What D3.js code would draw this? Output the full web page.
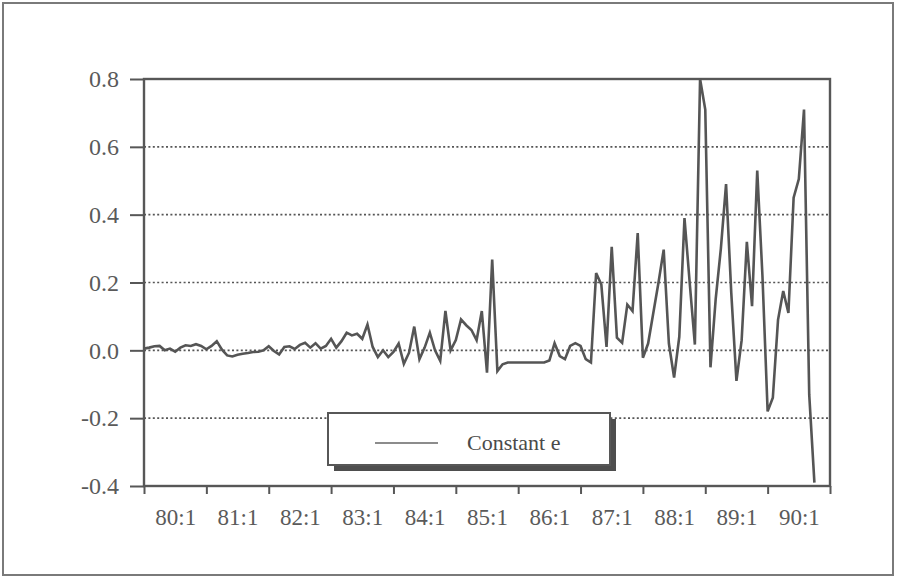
<!DOCTYPE html>
<html>
<head>
<meta charset="utf-8">
<script src="https://cdn.jsdelivr.net/npm/d3@7/dist/d3.min.js"></script>
<style>
  html, body { margin: 0; padding: 0; background: #fff; }
  svg { display: block; }
  text { font-family: "Liberation Serif", "DejaVu Serif", serif; fill: #5a5a5a; }
</style>
</head>
<body>
<svg id="chart" width="898" height="578"></svg>
<script>
// Monthly series, starting at 80:1
const startYear = 1980;
const values = [
  0.005, 0.008, 0.012, 0.013, 0.000, 0.005, -0.004, 0.008, 0.015, 0.013,
  0.018, 0.013, 0.003, 0.013, 0.027, 0.002, -0.015, -0.018, -0.013, -0.010,
  -0.008, -0.005, -0.004, 0.000, 0.012, -0.002, -0.012, 0.010, 0.012, 0.004,
  0.016, 0.022, 0.008, 0.021, 0.005, 0.013, 0.034, 0.008, 0.027, 0.052,
  0.044, 0.049, 0.034, 0.076, 0.010, -0.020, 0.000, -0.020, -0.005, 0.020,
  -0.040, -0.007, 0.070, -0.026, 0.008, 0.052, 0.000, -0.031, 0.116, 0.000,
  0.030, 0.091, 0.074, 0.060, 0.030, 0.116, -0.066, 0.268, -0.061, -0.041,
  -0.036, -0.036, -0.036, -0.036, -0.036, -0.036, -0.036, -0.036, -0.030, 0.021,
  -0.017, -0.026, 0.013, 0.021, 0.013, -0.026, -0.036, 0.228, 0.194, 0.010,
  0.305, 0.037, 0.022, 0.135, 0.116, 0.346, -0.022, 0.020, 0.110, 0.200,
  0.297, 0.020, -0.080, 0.040, 0.390, 0.200, 0.017, 0.800, 0.710, -0.050,
  0.150, 0.300, 0.490, 0.170, -0.090, 0.030, 0.320, 0.130, 0.530, 0.220,
  -0.180, -0.140, 0.090, 0.175, 0.110, 0.450, 0.505, 0.710, -0.130, -0.390
];
const yearLabels = ["80:1", "81:1", "82:1", "83:1", "84:1", "85:1", "86:1", "87:1", "88:1", "89:1", "90:1"];
const yTicks = [-0.4, -0.2, 0.0, 0.2, 0.4, 0.6, 0.8];
const gridValues = [-0.2, 0.0, 0.2, 0.4, 0.6];
const seriesName = "Constant e";

const svg = d3.select("#chart");
const ink = "#575757";
const fmt = d => d3.format(".1f")(d).replace("\u2212", "-");

// outer frame
svg.append("rect")
  .attr("x", 3).attr("y", 3).attr("width", 890).attr("height", 572)
  .attr("fill", "none").attr("stroke", "#7a7a7a").attr("stroke-width", 2);

const plotLeft = 144, plotRight = 830, plotTop = 79, plotBottom = 486;
const x = d3.scaleLinear().domain([startYear, startYear + yearLabels.length]).range([plotLeft, plotRight]);
const y = d3.scaleLinear().domain([-0.4, 0.8]).range([plotBottom, plotTop]);

// dotted gridlines
svg.append("g").selectAll("line").data(gridValues).join("line")
  .attr("x1", plotLeft).attr("x2", plotRight)
  .attr("y1", d => y(d)).attr("y2", d => y(d))
  .attr("stroke", "#555").attr("stroke-width", 1.6)
  .attr("stroke-dasharray", "2,2.4");

// plot box
svg.append("rect")
  .attr("x", plotLeft).attr("y", plotTop).attr("width", plotRight - plotLeft).attr("height", plotBottom - plotTop)
  .attr("fill", "none").attr("stroke", ink).attr("stroke-width", 2.4);

// left axis
const yAxis = d3.axisLeft(y).tickValues(yTicks).tickSize(14).tickPadding(11)
  .tickFormat(fmt);
const gy = svg.append("g").attr("transform", `translate(${plotLeft},0)`).call(yAxis);
gy.select(".domain").remove();
gy.selectAll(".tick line").attr("stroke", ink).attr("stroke-width", 2);
gy.selectAll(".tick text").attr("font-size", 24).style("fill", "#5a5a5a")
  .attr("font-family", "Liberation Serif, serif");

// bottom axis: ticks at year boundaries
const years = d3.range(startYear, startYear + yearLabels.length + 1);
const xAxis = d3.axisBottom(x).tickValues(years).tickSize(8).tickFormat("");
const gx = svg.append("g").attr("transform", `translate(0,${plotBottom})`).call(xAxis);
gx.select(".domain").remove();
gx.selectAll(".tick line").attr("stroke", ink).attr("stroke-width", 2);

// year labels centred in each interval
const xLab = d3.axisBottom(x).tickValues(years.slice(0, -1).map(v => v + 0.5))
  .tickSize(0).tickPadding(23).tickFormat((d, i) => yearLabels[i]);
const gl = svg.append("g").attr("transform", `translate(0,${plotBottom})`).call(xLab);
gl.select(".domain").remove();
gl.selectAll(".tick text").attr("font-size", 23).style("fill", "#5a5a5a")
  .attr("font-family", "Liberation Serif, serif");

// series line
const line = d3.line()
  .x((d, i) => x(startYear + i / 12))
  .y(d => y(d));
svg.append("path").datum(values)
  .attr("d", line)
  .attr("fill", "none").attr("stroke", "#555").attr("stroke-width", 2.6)
  .attr("stroke-linejoin", "miter").attr("stroke-miterlimit", 4);

// legend with drop shadow
const lg = svg.append("g");
lg.append("rect").attr("x", 334).attr("y", 419).attr("width", 282).attr("height", 52)
  .attr("fill", "#4e4e4e");
lg.append("rect").attr("x", 328).attr("y", 413).attr("width", 282).attr("height", 52)
  .attr("fill", "#fff").attr("stroke", ink).attr("stroke-width", 2);
lg.append("line").attr("x1", 375).attr("x2", 438).attr("y1", 443).attr("y2", 443)
  .attr("stroke", "#666").attr("stroke-width", 1.6);
lg.append("text").attr("x", 467).attr("y", 450).attr("font-size", 22)
  .style("fill", "#4a4a4a").text(seriesName);
</script>
</body>
</html>
